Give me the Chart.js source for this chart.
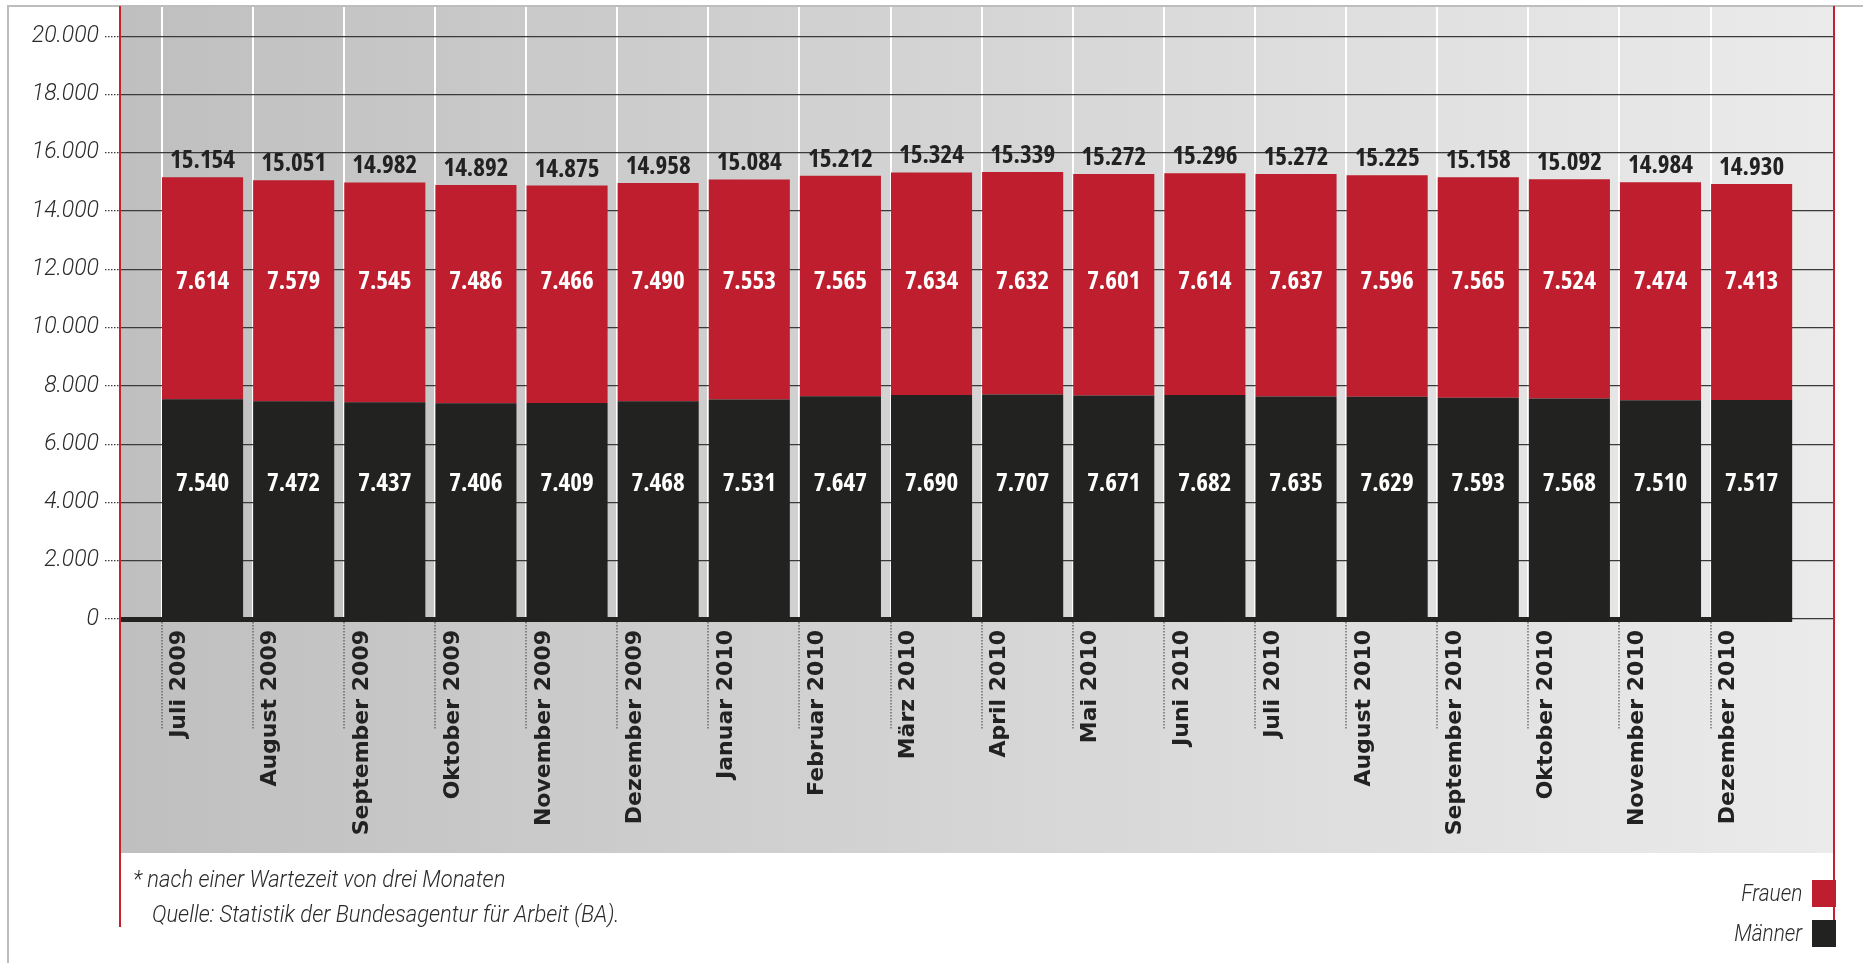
<!DOCTYPE html>
<html lang="de">
<head>
<meta charset="utf-8">
<title>Bedarfsgemeinschaften Juli 2009 bis Dezember 2010</title>
<script src="https://cdn.jsdelivr.net/npm/chart.js@4.4.1/dist/chart.umd.min.js"></script>
<style>
  html, body { margin: 0; padding: 0; background: #fff; }
  #wrap { position: relative; width: 1863px; height: 963px; overflow: hidden; }
  #grafik { position: absolute; left: 0; top: 0; }
  .kursiv { position: absolute; font-family: Roboto, sans-serif; font-weight: 300; font-style: italic; color: #2a2a2a; white-space: nowrap; line-height: 1; font-size: 24px; transform: scaleX(0.915); transform-origin: left top; }
  .leg { right: 61px; text-align: right; transform: scaleX(0.87); transform-origin: right top; }
  .box { position: absolute; width: 24px; height: 27px; left: 1812px; }
</style>
</head>
<body>
<div id="wrap">
  <canvas id="grafik" width="1863" height="963"></canvas>
  <div class="kursiv" style="left:133px; top:867px;">* nach einer Wartezeit von drei Monaten</div>
  <div class="kursiv" style="left:152px; top:902px;">Quelle: Statistik der Bundesagentur für Arbeit (BA).</div>
  <div class="kursiv leg" style="top:881px;">Frauen</div>
  <div class="box" style="top:880px; background:#be1e2d;"></div>
  <div class="kursiv leg" style="top:921px;">Männer</div>
  <div class="box" style="top:920px; background:#222220;"></div>
</div>
<script>
// Daten
const monate = ['Juli 2009', 'August 2009', 'September 2009', 'Oktober 2009', 'November 2009', 'Dezember 2009',
    'Januar 2010', 'Februar 2010', 'März 2010', 'April 2010', 'Mai 2010', 'Juni 2010',
    'Juli 2010', 'August 2010', 'September 2010', 'Oktober 2010', 'November 2010', 'Dezember 2010'];
const maenner = [7540, 7472, 7437, 7406, 7409, 7468, 7531, 7647, 7690, 7707, 7671, 7682, 7635, 7629, 7593, 7568, 7510, 7517];
const frauen = [7614, 7579, 7545, 7486, 7466, 7490, 7553, 7565, 7634, 7632, 7601, 7614, 7637, 7596, 7565, 7524, 7474, 7413];
const gesamt = [15154, 15051, 14982, 14892, 14875, 14958, 15084, 15212, 15324, 15339, 15272, 15296, 15272, 15225, 15158, 15092, 14984, 14930];
const yTicks = [0, 2000, 4000, 6000, 8000, 10000, 12000, 14000, 16000, 18000, 20000];

const ROT = '#be1e2d';
const SCHWARZ = '#222220';
const zahlFont = "bold condensed 25px 'Open Sans', sans-serif";

// Zahl mit Tausenderpunkt
function fmt(v) {
    return String(v).replace(/\B(?=(\d{3})+(?!\d))/g, '.');
}

// Hintergrund, Rahmen, Grundlinie und Beschriftungen
const gestaltung = {
    id: 'gestaltung',
    beforeDraw(chart) {
        const ctx = chart.ctx;
        const a = chart.chartArea;
        const grad = ctx.createLinearGradient(a.left, 0, a.right, 0);
        grad.addColorStop(0, '#bfbfbf');
        grad.addColorStop(1, '#ebebeb');
        ctx.save();
        ctx.fillStyle = grad;
        ctx.fillRect(a.left, a.top, a.right - a.left, 853 - a.top);
        // grauer Rahmen oben und links
        ctx.fillStyle = '#bdbdbd';
        ctx.fillRect(7, 5, chart.width, 2);
        ctx.fillRect(7, 5, 2, chart.height);
        ctx.restore();
    },
    afterDatasetsDraw(chart) {
        const ctx = chart.ctx;
        const y = chart.scales.y;
        const a = chart.chartArea;
        const mMeta = chart.getDatasetMeta(0);
        const fMeta = chart.getDatasetMeta(1);
        const letzter = mMeta.data[mMeta.data.length - 1];
        ctx.save();
        // dicke Grundlinie
        ctx.fillStyle = SCHWARZ;
        ctx.fillRect(a.left, y.getPixelForValue(0) - 2, letzter.x + letzter.width / 2 - a.left, 5);
        ctx.font = zahlFont;
        ctx.textAlign = 'center';
        mMeta.data.forEach((bar, i) => {
            ctx.fillStyle = '#ffffff';
            ctx.textBaseline = 'middle';
            ctx.fillText(fmt(maenner[i]), bar.x, y.getPixelForValue(4650));
            ctx.fillText(fmt(frauen[i]), bar.x, y.getPixelForValue(11560));
            ctx.fillStyle = '#222222';
            ctx.textBaseline = 'alphabetic';
            ctx.fillText(fmt(gesamt[i]), bar.x, fMeta.data[i].y - 9);
        });
        ctx.restore();
    },
    afterDraw(chart) {
        const ctx = chart.ctx;
        const a = chart.chartArea;
        ctx.save();
        ctx.fillStyle = '#c8202e';
        ctx.fillRect(a.left - 1, 6, 2, 921);
        ctx.fillRect(a.right - 1, 6, 2, 914);
        ctx.restore();
    }
};

new Chart(document.getElementById('grafik'), {
    type: 'bar',
    data: {
        datasets: [{
            label: 'Männer',
            data: maenner.map((v, i) => ({ x: i, y: v })),
            backgroundColor: SCHWARZ
        }, {
            label: 'Frauen',
            data: frauen.map((v, i) => ({ x: i, y: v })),
            backgroundColor: ROT
        }]
    },
    options: {
        responsive: false,
        animation: false,
        layout: { padding: { left: 0, right: 29, top: 7, bottom: 0 }, autoPadding: false },
        datasets: { bar: { categoryPercentage: 1, barPercentage: 0.89 } },
        plugins: { legend: { display: false }, tooltip: { enabled: false } },
        scales: {
            x: {
                type: 'linear',
                stacked: true,
                offset: false,
                min: -0.906,
                max: 17.904,
                afterBuildTicks: s => { s.ticks = monate.map((m, i) => ({ value: i - 0.45 })); },
                afterFit: s => { s.height = 344; s.paddingLeft = 0; s.paddingRight = 0; },
                border: { display: false },
                grid: {
                    offset: false,
                    color: '#ffffff',
                    lineWidth: 2,
                    tickLength: 111,
                    tickColor: '#555555',
                    tickWidth: 1.2,
                    tickBorderDash: [1.5, 1.5]
                },
                ticks: {
                    autoSkip: false,
                    minRotation: 90,
                    maxRotation: 90,
                    labelOffset: 18,
                    padding: -100,
                    color: '#222222',
                    font: { family: "'DejaVu Sans', sans-serif", size: 22, weight: 'bold' },
                    callback: (v, i) => monate[i]
                }
            },
            y: {
                stacked: true,
                min: 0,
                max: 21000,
                afterBuildTicks: s => { s.ticks = yTicks.map(v => ({ value: v })); },
                afterFit: s => { s.width = 120; s.paddingTop = 0; s.paddingBottom = 0; },
                border: { display: false },
                grid: {
                    color: '#3a3a3a',
                    lineWidth: 1.2,
                    borderDash: [1.5, 1.5],
                    tickLength: 15,
                    tickColor: '#3a3a3a',
                    tickWidth: 1.2,
                    tickBorderDash: [1.5, 1.5]
                },
                ticks: {
                    padding: 6,
                    color: '#2a2a2a',
                    font: { family: 'Roboto, sans-serif', size: 23, style: 'italic', weight: '300' },
                    callback: v => fmt(v)
                }
            }
        }
    },
    plugins: [gestaltung]
});
</script>
</body>
</html>
